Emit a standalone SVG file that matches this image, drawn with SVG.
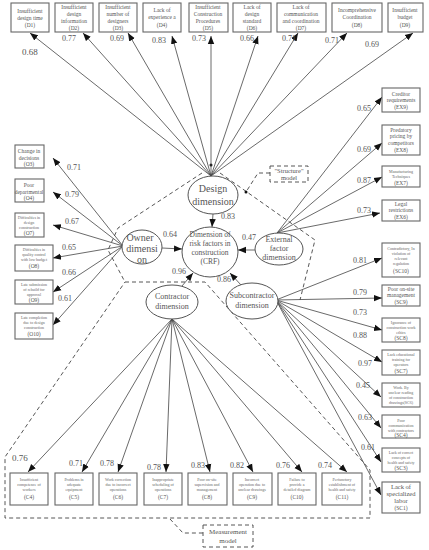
<svg xmlns="http://www.w3.org/2000/svg" width="429" height="550" viewBox="0 0 429 550">
<style>
.bx{fill:#fff;stroke:#666;stroke-width:1.1}
.bt{font-family:"Liberation Serif",serif;font-size:5.5px;fill:#555;text-anchor:middle}
.st{font-family:"Liberation Serif",serif;font-size:4px;fill:#666;text-anchor:middle}
.lb{font-family:"Liberation Serif",serif;font-size:8px;fill:#555}
.el{fill:#fff;stroke:#555;stroke-width:1}
.et{font-family:"Liberation Serif",serif;font-size:10px;fill:#555;text-anchor:middle}
.ar{stroke:#444;stroke-width:0.8;fill:none;marker-end:url(#ah)}
.ds{stroke:#444;stroke-width:0.9;fill:none;stroke-dasharray:4 3}
</style>
<defs>
<marker id="ah" viewBox="0 0 10 10" refX="10" refY="5" markerWidth="8" markerHeight="8" markerUnits="userSpaceOnUse" orient="auto"><path d="M0,1 L10,5 L0,9 z" fill="#111"/></marker>
</defs>
<g opacity="0.999">
<g id="dashed">
<polyline class="ds" points="202,173 118,228 108,250 125,282"/>
<polyline class="ds" points="220,173 315,240 300,300"/>
<polyline class="ds" points="125,282 205,282 370,470 370,518 5,518 5,457 125,282"/>
<polyline class="ds" points="270,173 258,173 246,192"/>
<polyline class="ds" points="170,519 183,533 203,533"/>
<circle cx="211" cy="165" r="1.5" fill="#111"/>
<circle cx="246" cy="192" r="1.5" fill="#111"/>
</g>

<g id="connectors">
<line class="ar" x1="211" y1="176" x2="30" y2="33"/>
<line class="ar" x1="211" y1="176" x2="83" y2="33"/>
<line class="ar" x1="211" y1="176" x2="128" y2="33"/>
<line class="ar" x1="211" y1="176" x2="172" y2="36"/>
<line class="ar" x1="211" y1="176" x2="211" y2="36"/>
<line class="ar" x1="211" y1="176" x2="258" y2="36"/>
<line class="ar" x1="211" y1="176" x2="298" y2="33"/>
<line class="ar" x1="211" y1="176" x2="347" y2="33"/>
<line class="ar" x1="211" y1="176" x2="413" y2="33"/>

<line class="ar" x1="123" y1="246" x2="53" y2="158"/>
<line class="ar" x1="123" y1="246" x2="53" y2="192"/>
<line class="ar" x1="123" y1="246" x2="53" y2="225"/>
<line class="ar" x1="123" y1="246" x2="53" y2="258"/>
<line class="ar" x1="123" y1="246" x2="53" y2="292"/>
<line class="ar" x1="123" y1="246" x2="53" y2="325"/>

<line class="ar" x1="277" y1="233" x2="382" y2="97"/>
<line class="ar" x1="277" y1="233" x2="382" y2="143"/>
<line class="ar" x1="277" y1="233" x2="382" y2="177"/>
<line class="ar" x1="277" y1="233" x2="380" y2="213"/>

<line class="ar" x1="276" y1="300" x2="382" y2="258"/>
<line class="ar" x1="276" y1="300" x2="382" y2="298"/>
<line class="ar" x1="276" y1="300" x2="382" y2="330"/>
<line class="ar" x1="276" y1="300" x2="382" y2="362"/>
<line class="ar" x1="276" y1="300" x2="381" y2="397"/>
<line class="ar" x1="276" y1="300" x2="381" y2="428"/>
<line class="ar" x1="276" y1="300" x2="381" y2="462"/>
<line class="ar" x1="276" y1="300" x2="381" y2="495"/>

<line class="ar" x1="172" y1="319" x2="28" y2="472"/>
<line class="ar" x1="172" y1="319" x2="82" y2="472"/>
<line class="ar" x1="172" y1="319" x2="118" y2="472"/>
<line class="ar" x1="172" y1="319" x2="166" y2="472"/>
<line class="ar" x1="172" y1="319" x2="210" y2="472"/>
<line class="ar" x1="172" y1="319" x2="253" y2="472"/>
<line class="ar" x1="172" y1="319" x2="302" y2="472"/>
<line class="ar" x1="172" y1="319" x2="347" y2="472"/>

<line class="ar" x1="213" y1="214" x2="212" y2="227"/>
<line class="ar" x1="162" y1="248" x2="182" y2="249"/>
<line class="ar" x1="255" y1="250" x2="238" y2="250"/>
<line class="ar" x1="182" y1="286" x2="193" y2="273"/>
<line class="ar" x1="241" y1="285" x2="230" y2="273"/>
</g>

<g id="D1"><rect class="bx" x="11" y="3" width="38" height="29"/><text class="bt" x="30" y="13">Insufficient</text><text class="bt" x="30" y="20">design time</text><text class="bt" x="30" y="27">(D1)</text></g>
<g id="D2"><rect class="bx" x="55" y="3" width="38" height="29"/><text class="bt" x="74" y="9">Insufficient</text><text class="bt" x="74" y="16">design</text><text class="bt" x="74" y="23">information</text><text class="bt" x="74" y="30">(D2)</text></g>
<g id="D3"><rect class="bx" x="99" y="3" width="38" height="29"/><text class="bt" x="118" y="9">Insufficient</text><text class="bt" x="118" y="16">number of</text><text class="bt" x="118" y="23">designers</text><text class="bt" x="118" y="30">(D3)</text></g>
<g id="D4"><rect class="bx" x="143" y="3" width="38" height="29"/><text class="bt" x="162" y="12">Lack of</text><text class="bt" x="162" y="19">experience a</text><text class="bt" x="162" y="27">(D4)</text></g>
<g id="D5"><rect class="bx" x="189" y="3" width="39" height="29"/><text class="bt" x="208" y="9">Insufficient</text><text class="bt" x="208" y="16">Construction</text><text class="bt" x="208" y="23">Procedures</text><text class="bt" x="208" y="30">(D5)</text></g>
<g id="D6"><rect class="bx" x="233" y="3" width="38" height="29"/><text class="bt" x="252" y="9">Lack of</text><text class="bt" x="252" y="16">design</text><text class="bt" x="252" y="23">standard</text><text class="bt" x="252" y="30">(D6)</text></g>
<g id="D7"><rect class="bx" x="277" y="3" width="49" height="29"/><text class="bt" x="301" y="9">Lack of</text><text class="bt" x="301" y="16">communication</text><text class="bt" x="301" y="23">and coordination</text><text class="bt" x="301" y="30">(D7)</text></g>
<g id="D8"><rect class="bx" x="332" y="3" width="50" height="29"/><text class="bt" x="357" y="12">Incomprehensive</text><text class="bt" x="357" y="19">Coordination</text><text class="bt" x="357" y="27">(D8)</text></g>
<g id="D9"><rect class="bx" x="388" y="3" width="35" height="29"/><text class="bt" x="405" y="12">Insufficient</text><text class="bt" x="405" y="19">budget</text><text class="bt" x="405" y="27">(D9)</text></g>

<g id="O3"><rect class="bx" x="15" y="145" width="29" height="23"/><text class="bt" x="29" y="153">Change in</text><text class="bt" x="29" y="160">decisions</text><text class="bt" x="29" y="166">(O3)</text></g>
<g id="O4"><rect class="bx" x="15" y="179" width="29" height="23"/><text class="bt" x="29" y="187">Poor</text><text class="bt" x="29" y="194">departmental</text><text class="bt" x="29" y="200">(O4)</text></g>
<g id="O7"><rect class="bx" x="15" y="213" width="29" height="24"/><text class="st" x="29" y="219">Difficulties in</text><text class="st" x="29" y="224">design</text><text class="st" x="29" y="229">construction</text><text class="bt" x="29" y="235">(O7)</text></g>
<g id="O8"><rect class="bx" x="15" y="245" width="38" height="26"/><text class="st" x="34" y="251">Difficulties in</text><text class="st" x="34" y="256">quality control</text><text class="st" x="34" y="261">with low budget</text><text class="bt" x="34" y="268">(O8)</text></g>
<g id="O9"><rect class="bx" x="15" y="280" width="38" height="24"/><text class="st" x="34" y="286">Late submission</text><text class="st" x="34" y="291">of rebuild for</text><text class="st" x="34" y="296">approval</text><text class="bt" x="34" y="302">(O9)</text></g>
<g id="O10"><rect class="bx" x="15" y="313" width="38" height="26"/><text class="st" x="34" y="319">Late completion</text><text class="st" x="34" y="324">due to design</text><text class="st" x="34" y="329">construction</text><text class="bt" x="34" y="336">(O10)</text></g>

<g id="EX9"><rect class="bx" x="382" y="88" width="38" height="24"/><text class="bt" x="401" y="96">Creditor</text><text class="bt" x="401" y="102">requirements</text><text class="bt" x="401" y="109">(EX9)</text></g>
<g id="EX8"><rect class="bx" x="382" y="125" width="38" height="30"/><text class="bt" x="401" y="132">Predatory</text><text class="bt" x="401" y="138">pricing by</text><text class="bt" x="401" y="145">competitors</text><text class="bt" x="401" y="152">(EX8)</text></g>
<g id="EX7"><rect class="bx" x="382" y="166" width="38" height="21"/><text class="st" x="401" y="173">Manufacturing</text><text class="st" x="401" y="178">Techniques</text><text class="bt" x="401" y="185">(EX7)</text></g>
<g id="EX6"><rect class="bx" x="382" y="200" width="38" height="21"/><text class="bt" x="401" y="206">Legal</text><text class="bt" x="401" y="212">restrictions</text><text class="bt" x="401" y="219">(EX6)</text></g>

<g id="SC10"><rect class="bx" x="382" y="243" width="38" height="34"/><text class="st" x="401" y="250">Contradictory, In</text><text class="st" x="401" y="255">violation of</text><text class="st" x="401" y="260">relevant</text><text class="st" x="401" y="265">regulation</text><text class="bt" x="401" y="273">(SC10)</text></g>
<g id="SC9"><rect class="bx" x="382" y="285" width="38" height="21"/><text class="bt" x="401" y="291">Poor on-site</text><text class="bt" x="401" y="297">management</text><text class="bt" x="401" y="304">(SC9)</text></g>
<g id="SC8"><rect class="bx" x="382" y="318" width="38" height="24"/><text class="st" x="401" y="324">Ignorance of</text><text class="st" x="401" y="329">construction work</text><text class="st" x="401" y="334">ethics</text><text class="bt" x="401" y="340">(SC8)</text></g>
<g id="SC7"><rect class="bx" x="382" y="350" width="38" height="25"/><text class="st" x="401" y="356">Lack educational</text><text class="st" x="401" y="361">training for</text><text class="st" x="401" y="366">operators</text><text class="bt" x="401" y="373">(SC7)</text></g>
<g id="SC6"><rect class="bx" x="382" y="383" width="38" height="24"/><text class="st" x="401" y="389">Work. By</text><text class="st" x="401" y="394">unclear reading</text><text class="st" x="401" y="399">of construction</text><text class="st" x="401" y="404">drawings(SC6)</text></g>
<g id="SC4"><rect class="bx" x="382" y="415" width="38" height="23"/><text class="st" x="401" y="422">Poor</text><text class="st" x="401" y="427">communication</text><text class="st" x="401" y="432">with contractors</text><text class="bt" x="401" y="437">(SC4)</text></g>
<g id="SC3"><rect class="bx" x="382" y="448" width="38" height="24"/><text class="st" x="401" y="454">Lack of correct</text><text class="st" x="401" y="459">concepts of</text><text class="st" x="401" y="464">health and safety</text><text class="bt" x="401" y="470">(SC3)</text></g>
<g id="SC1"><rect class="bx" x="382" y="482" width="38" height="31"/><text class="bt" x="401" y="489" style="font-size:6.5px">Lack of</text><text class="bt" x="401" y="496" style="font-size:6.5px">specialized</text><text class="bt" x="401" y="503" style="font-size:6.5px">labor</text><text class="bt" x="401" y="510">(SC1)</text></g>

<g id="C4"><rect class="bx" x="10" y="473" width="38" height="32"/><text class="st" x="29" y="481">Insufficient</text><text class="st" x="29" y="486">competence of</text><text class="st" x="29" y="491">workers</text><text class="bt" x="29" y="499">(C4)</text></g>
<g id="C5"><rect class="bx" x="55" y="473" width="38" height="32"/><text class="st" x="74" y="481">Problems in</text><text class="st" x="74" y="486">adequate</text><text class="st" x="74" y="491">equipment</text><text class="bt" x="74" y="499">(C5)</text></g>
<g id="C6"><rect class="bx" x="99" y="473" width="38" height="32"/><text class="st" x="118" y="481">Work correction</text><text class="st" x="118" y="486">due to incorrect</text><text class="st" x="118" y="491">operations</text><text class="bt" x="118" y="499">(C6)</text></g>
<g id="C7"><rect class="bx" x="144" y="473" width="38" height="32"/><text class="st" x="163" y="481">Inappropriate</text><text class="st" x="163" y="486">scheduling of</text><text class="st" x="163" y="491">operations</text><text class="bt" x="163" y="499">(C7)</text></g>
<g id="C8"><rect class="bx" x="188" y="473" width="39" height="32"/><text class="st" x="207" y="481">Poor on-site</text><text class="st" x="207" y="486">supervision and</text><text class="st" x="207" y="491">management</text><text class="bt" x="207" y="499">(C8)</text></g>
<g id="C9"><rect class="bx" x="233" y="473" width="39" height="32"/><text class="st" x="252" y="481">Incorrect</text><text class="st" x="252" y="486">operation due to</text><text class="st" x="252" y="491">unclear drawings</text><text class="bt" x="252" y="499">(C9)</text></g>
<g id="C10"><rect class="bx" x="278" y="473" width="38" height="32"/><text class="st" x="297" y="481">Failure to</text><text class="st" x="297" y="486">provide a</text><text class="st" x="297" y="491">detailed diagram</text><text class="bt" x="297" y="499">(C10)</text></g>
<g id="C11"><rect class="bx" x="322" y="473" width="40" height="32"/><text class="st" x="342" y="481">Perfunctory</text><text class="st" x="342" y="486">establishment of</text><text class="st" x="342" y="491">health and safety</text><text class="bt" x="342" y="499">(C11)</text></g>

<g id="design"><ellipse class="el" cx="213" cy="195" rx="25" ry="19"/><text class="et" x="213" y="192">Design</text><text class="et" x="213" y="205">dimension</text></g>
<g id="owner"><ellipse class="el" cx="142" cy="247" rx="20" ry="17"/><text class="et" x="140" y="241">Owner</text><text class="et" x="142" y="252">dimensi</text><text class="et" x="142" y="263">on</text></g>
<g id="crf"><ellipse class="el" cx="210" cy="252" rx="28" ry="25"/><text class="bt" x="210" y="237" style="font-size:7.5px">Dimension of</text><text class="bt" x="210" y="246" style="font-size:7.5px">risk factors in</text><text class="bt" x="210" y="255" style="font-size:7.5px">construction</text><text class="bt" x="210" y="264" style="font-size:7.5px">(CRF)</text></g>
<g id="external"><ellipse class="el" cx="279" cy="249" rx="24" ry="16"/><text class="bt" x="279" y="242" style="font-size:8px">External</text><text class="bt" x="279" y="251" style="font-size:8px">factor</text><text class="bt" x="279" y="260" style="font-size:8px">dimension</text></g>
<g id="contractor"><ellipse class="el" cx="172" cy="302" rx="26" ry="17"/><text class="bt" x="172" y="299" style="font-size:8px">Contractor</text><text class="bt" x="172" y="309" style="font-size:8px">dimension</text></g>
<g id="subcontractor"><ellipse class="el" cx="252" cy="301" rx="26" ry="18"/><text class="bt" x="252" y="298" style="font-size:8px">Subcontractor</text><text class="bt" x="252" y="308" style="font-size:8px">dimension</text></g>

<g id="structure-model"><rect x="270" y="166" width="38" height="16" fill="#fff" stroke="#444" stroke-width="0.9" stroke-dasharray="4 3"/><text class="bt" x="289" y="173" style="font-size:6.5px">"Structure"</text><text class="bt" x="289" y="180" style="font-size:6.5px">model</text></g>
<g id="measurement-model"><rect x="203" y="525" width="50" height="22" fill="#fff" stroke="#444" stroke-width="0.9" stroke-dasharray="4 3"/><text class="bt" x="228" y="534" style="font-size:7px">Measurement</text><text class="bt" x="228" y="543" style="font-size:7px">model</text></g>

<g id="labels">
<text class="lb" x="22" y="55" style="font-size:9px">0.68</text>
<text class="lb" x="62" y="41">0.77</text>
<text class="lb" x="110" y="41">0.69</text>
<text class="lb" x="152" y="43">0.83</text>
<text class="lb" x="192" y="41">0.73</text>
<text class="lb" x="240" y="41">0.66</text>
<text class="lb" x="282" y="41">0.71</text>
<text class="lb" x="325" y="43">0.71</text>
<text class="lb" x="365" y="47">0.69</text>
<text class="lb" x="67" y="170">0.71</text>
<text class="lb" x="65" y="197">0.79</text>
<text class="lb" x="65" y="224">0.67</text>
<text class="lb" x="62" y="250">0.65</text>
<text class="lb" x="62" y="275">0.66</text>
<text class="lb" x="58" y="301">0.61</text>
<text class="lb" x="357" y="111">0.65</text>
<text class="lb" x="357" y="152">0.69</text>
<text class="lb" x="357" y="183">0.87</text>
<text class="lb" x="357" y="213">0.73</text>
<text class="lb" x="353" y="263">0.81</text>
<text class="lb" x="353" y="295">0.79</text>
<text class="lb" x="353" y="315">0.73</text>
<text class="lb" x="353" y="338">0.88</text>
<text class="lb" x="358" y="366">0.97</text>
<text class="lb" x="356" y="388">0.45</text>
<text class="lb" x="358" y="420">0.63</text>
<text class="lb" x="361" y="450">0.61</text>
<text class="lb" x="12" y="461" style="font-size:9px">0.76</text>
<text class="lb" x="69" y="466">0.71</text>
<text class="lb" x="100" y="466">0.78</text>
<text class="lb" x="147" y="470">0.78</text>
<text class="lb" x="191" y="468">0.83</text>
<text class="lb" x="230" y="468">0.82</text>
<text class="lb" x="276" y="468">0.76</text>
<text class="lb" x="318" y="468">0.74</text>
<text class="lb" x="221" y="219">0.83</text>
<text class="lb" x="163" y="237">0.64</text>
<text class="lb" x="242" y="240">0.47</text>
<text class="lb" x="172" y="274">0.96</text>
<text class="lb" x="217" y="282">0.86</text>
</g>
</g>
</svg>
